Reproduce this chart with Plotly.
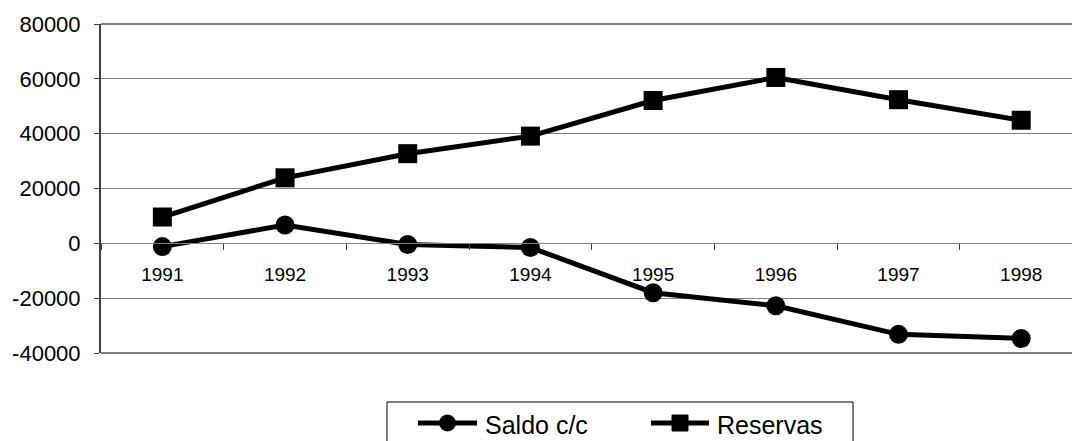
import plotly.graph_objects as go

# Data
years = ["1991", "1992", "1993", "1994", "1995", "1996", "1997", "1998"]
saldo_cc = [-1200, 6700, -400, -1500, -18000, -22800, -33200, -34700]
reservas = [9600, 23900, 32700, 39100, 52100, 60500, 52400, 44900]
series_names = ["Saldo c/c", "Reservas"]
y_ticks = [-40000, -20000, 0, 20000, 40000, 60000, 80000]
y_tick_labels = ["-40000", "-20000", "0", "20000", "40000", "60000", "80000"]

FONT = "Liberation Sans, Arial, sans-serif"
W, H = 1072, 441
L, R, T, B = 101, 1072, 24, 353  # plot area in pixels


def px(x):
    return (x - L) / (R - L)


def py(y):
    return (B - y) / (B - T)


fig = go.Figure()
fig.add_trace(go.Scatter(
    x=years, y=saldo_cc, name=series_names[0], mode="lines+markers",
    line=dict(color="black", width=5),
    marker=dict(symbol="circle", size=19, color="black"),
    showlegend=False,
))
fig.add_trace(go.Scatter(
    x=years, y=reservas, name=series_names[1], mode="lines+markers",
    line=dict(color="black", width=5),
    marker=dict(symbol="square", size=19, color="black"),
    showlegend=False,
))

shapes = [
    # heavier top / bottom frame lines
    dict(type="line", xref="paper", yref="paper", x0=0, x1=1, y0=1, y1=1,
         line=dict(color="#808080", width=2), layer="below"),
    dict(type="line", xref="paper", yref="paper", x0=0, x1=1, y0=0, y1=0,
         line=dict(color="#808080", width=2), layer="below"),
    # legend box
    dict(type="rect", xref="paper", yref="paper",
         x0=px(387), x1=px(853), y0=py(402), y1=py(470),
         line=dict(color="black", width=1), fillcolor="white"),
]
annotations = []

# legend entries
legend_items = [
    (series_names[0], "circle", 418, 477, 483),
    (series_names[1], "square", 651, 709, 715),
]
ly = 423
for name, sym, x0, x1, tx in legend_items:
    shapes.append(dict(type="line", xref="paper", yref="paper",
                       x0=px(x0), x1=px(x1), y0=py(ly), y1=py(ly),
                       line=dict(color="black", width=5)))
    cx = (x0 + x1) / 2
    half = 8
    shapes.append(dict(type="circle" if sym == "circle" else "rect",
                       xref="paper", yref="paper",
                       x0=px(cx - half), x1=px(cx + half),
                       y0=py(ly + half), y1=py(ly - half),
                       line=dict(color="black", width=1), fillcolor="black"))
    annotations.append(dict(xref="paper", yref="paper", x=px(tx), y=py(ly + 2),
                            text=name, showarrow=False, xanchor="left",
                            yanchor="middle",
                            font=dict(family=FONT, size=25, color="black")))

fig.update_layout(
    width=W, height=H,
    margin=dict(l=L, r=W - R, t=T, b=H - B, pad=0),
    paper_bgcolor="white", plot_bgcolor="white",
    font=dict(family=FONT, color="black"),
    shapes=shapes, annotations=annotations,
    xaxis=dict(
        type="category", range=[-0.5, 7.414],
        anchor="free", position=1 / 3,
        showline=True, linecolor="#808080", linewidth=1,
        showgrid=False, zeroline=False,
        ticks="outside", tickson="boundaries", ticklen=6,
        tickcolor="#404040", tickwidth=1,
        ticklabelstandoff=14,
        tickfont=dict(family=FONT, size=19, color="black"),
        automargin=False,
    ),
    yaxis=dict(
        range=[-40000, 80000], tickvals=y_ticks, ticktext=y_tick_labels,
        showgrid=True, gridcolor="#808080", gridwidth=1,
        zeroline=False,
        showline=True, linecolor="#404040", linewidth=2,
        ticks="outside", ticklen=5, tickcolor="#404040",
        ticklabelstandoff=9,
        tickfont=dict(family=FONT, size=22, color="black"),
        automargin=False,
    ),
)

fig.write_html("out.html")
